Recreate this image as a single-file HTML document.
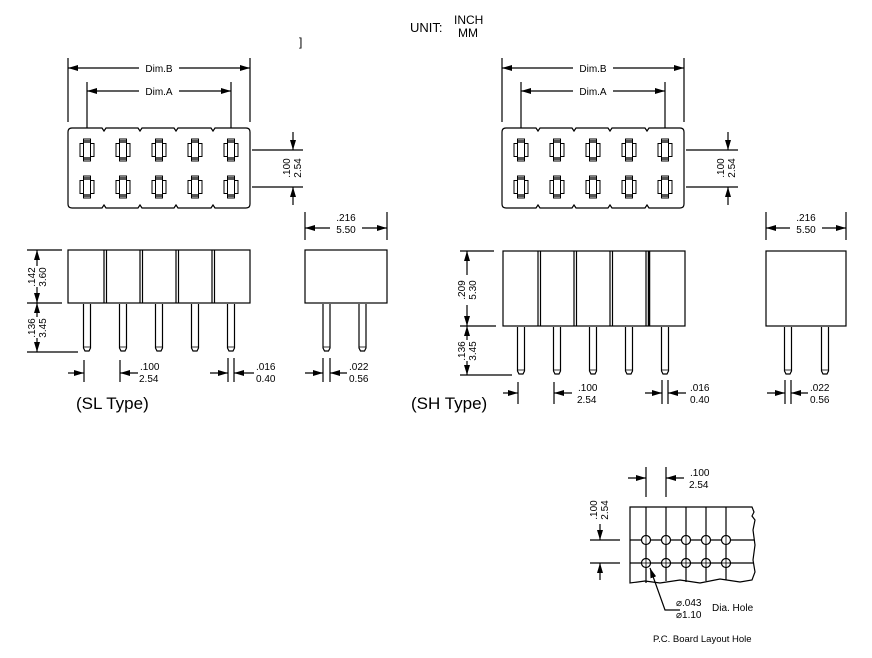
<!DOCTYPE html>
<html><head><meta charset="utf-8"><style>
html,body{margin:0;padding:0;background:#fff;width:872px;height:658px;overflow:hidden}
svg{display:block}
text{font-family:"Liberation Sans",Arial,sans-serif;fill:#000}
.t{font-size:10px}
</style></head><body>
<svg width="872" height="658" viewBox="0 0 872 658" xmlns="http://www.w3.org/2000/svg">
<defs>
<marker id="a" viewBox="0 0 10 6" refX="10" refY="3" markerWidth="10" markerHeight="6" markerUnits="userSpaceOnUse" orient="auto"><path d="M0,0L10,3L0,6z" fill="#000"/></marker>
<g id="c">
<rect x="-7" y="-6.5" width="14" height="13" fill="#fff" stroke="#000" stroke-width="1"/>
<rect x="-3.5" y="-11" width="7" height="22" fill="#fff" stroke="#000" stroke-width="1"/>
<rect x="-3" y="-10" width="6" height="3" fill="#555"/>
<rect x="-3" y="7" width="6" height="3" fill="#555"/>
</g>
<g id="p"><path d="M-3.5,0V44L-2,47H2L3.5,44V0" fill="#fff" stroke="#000" stroke-width="1.2"/><line x1="-3.5" y1="43" x2="3.5" y2="43" stroke="#000" stroke-width="0.8"/></g>
<g id="pl"><path d="M-3.5,0V44L-2,47H2L3.5,44V0" fill="#fff" stroke="#000" stroke-width="1.2"/><line x1="-3.5" y1="43" x2="3.5" y2="43" stroke="#000" stroke-width="0.8"/></g>
</defs>
<g stroke="#000" stroke-width="1.2" fill="none">

<!-- header -->
</g>
<text x="410" y="32" font-size="13">UNIT:</text>
<text x="454" y="24" font-size="12">INCH</text>
<text x="458" y="37" font-size="12">MM</text>
<text x="299" y="46" font-size="12">]</text>

<!-- ========== SL ========== -->
<g stroke="#000" stroke-width="1.2" fill="none">
<!-- Dim B/A -->
<line x1="68" y1="58" x2="68" y2="122"/><line x1="250" y1="58" x2="250" y2="122"/>
<line x1="87" y1="82" x2="87" y2="128"/><line x1="231" y1="82" x2="231" y2="128"/>
<line x1="140" y1="68" x2="68" y2="68" marker-end="url(#a)"/><line x1="178" y1="68" x2="250" y2="68" marker-end="url(#a)"/>
<line x1="140" y1="91" x2="87" y2="91" marker-end="url(#a)"/><line x1="178" y1="91" x2="231" y2="91" marker-end="url(#a)"/>
<!-- top box -->
<path d="M72,128H102L104,131L106,128H138L140,131L142,128H174L176,131L178,128H211L213,131L215,128H246Q250,128 250,132V204Q250,208 246,208H215L213,205L211,208H178L176,205L174,208H142L140,205L138,208H106L104,205L102,208H72Q68,208 68,204V132Q68,128 72,128Z"/>
<!-- .100 right -->
<line x1="252" y1="150" x2="303" y2="150"/><line x1="252" y1="187" x2="303" y2="187"/>
<line x1="293" y1="132" x2="293" y2="150" marker-end="url(#a)"/><line x1="293" y1="205" x2="293" y2="187" marker-end="url(#a)"/>
<!-- side view -->
<rect x="68" y="250" width="182" height="53"/>
<line x1="104" y1="250" x2="104" y2="303"/><line x1="106.5" y1="250" x2="106.5" y2="303"/>
<line x1="140" y1="250" x2="140" y2="303"/><line x1="142.5" y1="250" x2="142.5" y2="303"/>
<line x1="176" y1="250" x2="176" y2="303"/><line x1="178.5" y1="250" x2="178.5" y2="303"/>
<line x1="212" y1="250" x2="212" y2="303"/><line x1="214.5" y1="250" x2="214.5" y2="303"/>
<!-- left dims -->
<line x1="27" y1="250" x2="62" y2="250"/><line x1="27" y1="303" x2="62" y2="303"/><line x1="27" y1="352" x2="78" y2="352"/>
<line x1="37" y1="266" x2="37" y2="250" marker-end="url(#a)"/><line x1="37" y1="287" x2="37" y2="303" marker-end="url(#a)"/>
<line x1="37" y1="317" x2="37" y2="303" marker-end="url(#a)"/><line x1="37" y1="338" x2="37" y2="352" marker-end="url(#a)"/>
<!-- bottom dims -->
<line x1="84" y1="360" x2="84" y2="382"/><line x1="68" y1="373" x2="84" y2="373" marker-end="url(#a)"/>
<line x1="120" y1="360" x2="120" y2="382"/><line x1="138" y1="373" x2="120" y2="373" marker-end="url(#a)"/>
<line x1="228" y1="358" x2="228" y2="382"/><line x1="234" y1="358" x2="234" y2="382"/>
<line x1="210" y1="373" x2="228" y2="373" marker-end="url(#a)"/><line x1="254" y1="373" x2="234" y2="373" marker-end="url(#a)"/>
<!-- side right -->
<rect x="305" y="250" width="82" height="53"/>
<line x1="305" y1="212" x2="305" y2="240"/><line x1="387" y1="212" x2="387" y2="240"/>
<line x1="330" y1="228" x2="305" y2="228" marker-end="url(#a)"/><line x1="362" y1="228" x2="387" y2="228" marker-end="url(#a)"/>
<line x1="323" y1="358" x2="323" y2="382"/><line x1="330" y1="358" x2="330" y2="382"/>
<line x1="305" y1="373" x2="323" y2="373" marker-end="url(#a)"/><line x1="347" y1="373" x2="330" y2="373" marker-end="url(#a)"/>
</g>
<g>
<use href="#c" x="87" y="150"/><use href="#c" x="123" y="150"/><use href="#c" x="159" y="150"/><use href="#c" x="195" y="150"/><use href="#c" x="231" y="150"/>
<use href="#c" x="87" y="187"/><use href="#c" x="123" y="187"/><use href="#c" x="159" y="187"/><use href="#c" x="195" y="187"/><use href="#c" x="231" y="187"/>
<use href="#p" x="87" y="304"/><use href="#p" x="123" y="304"/><use href="#p" x="159" y="304"/><use href="#p" x="195" y="304"/><use href="#p" x="231" y="304"/>
<use href="#p" x="326.5" y="304"/><use href="#p" x="362.5" y="304"/>
</g>
<rect x="139" y="63" width="40" height="11" fill="#fff"/><text x="159" y="72" class="t" text-anchor="middle">Dim.B</text>
<rect x="139" y="86" width="40" height="11" fill="#fff"/><text x="159" y="95" class="t" text-anchor="middle">Dim.A</text>
<text class="t" text-anchor="middle" transform="translate(290,168) rotate(-90)">.100</text>
<text class="t" text-anchor="middle" transform="translate(301,168) rotate(-90)">2.54</text>
<text class="t" text-anchor="middle" transform="translate(35,277) rotate(-90)">.142</text>
<text class="t" text-anchor="middle" transform="translate(46,277) rotate(-90)">3.60</text>
<text class="t" text-anchor="middle" transform="translate(35,328) rotate(-90)">.136</text>
<text class="t" text-anchor="middle" transform="translate(46,328) rotate(-90)">3.45</text>
<text x="140" y="370" class="t">.100</text><text x="139" y="382" class="t">2.54</text>
<text x="256" y="370" class="t">.016</text><text x="256" y="382" class="t">0.40</text>
<text x="346" y="221" class="t" text-anchor="middle">.216</text><text x="346" y="233" class="t" text-anchor="middle">5.50</text>
<text x="349" y="370" class="t">.022</text><text x="349" y="382" class="t">0.56</text>
<text x="76" y="409" font-size="17">(SL Type)</text>

<!-- ========== SH ========== -->
<g stroke="#000" stroke-width="1.2" fill="none">
<line x1="502" y1="58" x2="502" y2="122"/><line x1="684" y1="58" x2="684" y2="122"/>
<line x1="521" y1="82" x2="521" y2="128"/><line x1="665" y1="82" x2="665" y2="128"/>
<line x1="574" y1="68" x2="502" y2="68" marker-end="url(#a)"/><line x1="612" y1="68" x2="684" y2="68" marker-end="url(#a)"/>
<line x1="574" y1="91" x2="521" y2="91" marker-end="url(#a)"/><line x1="612" y1="91" x2="665" y2="91" marker-end="url(#a)"/>
<path d="M506,128H536L538,131L540,128H572L574,131L576,128H608L610,131L612,128H645L647,131L649,128H680Q684,128 684,132V204Q684,208 680,208H649L647,205L645,208H612L610,205L608,208H576L574,205L572,208H540L538,205L536,208H506Q502,208 502,204V132Q502,128 506,128Z"/>
<line x1="686" y1="150" x2="738" y2="150"/><line x1="686" y1="187" x2="738" y2="187"/>
<line x1="728" y1="132" x2="728" y2="150" marker-end="url(#a)"/><line x1="728" y1="205" x2="728" y2="187" marker-end="url(#a)"/>
<rect x="503" y="251" width="182" height="75"/>
<line x1="538" y1="251" x2="538" y2="326"/><line x1="540.5" y1="251" x2="540.5" y2="326"/>
<line x1="574" y1="251" x2="574" y2="326"/><line x1="576.5" y1="251" x2="576.5" y2="326"/>
<line x1="610" y1="251" x2="610" y2="326"/><line x1="612.5" y1="251" x2="612.5" y2="326"/>
<line x1="646" y1="251" x2="646" y2="326"/><line x1="649" y1="251" x2="649" y2="326" stroke-width="2.5"/>
<line x1="460" y1="251" x2="494" y2="251"/><line x1="460" y1="326" x2="496" y2="326"/><line x1="460" y1="375" x2="512" y2="375"/>
<line x1="467" y1="275" x2="467" y2="251" marker-end="url(#a)"/><line x1="467" y1="305" x2="467" y2="326" marker-end="url(#a)"/>
<line x1="467" y1="340" x2="467" y2="326" marker-end="url(#a)"/><line x1="467" y1="361" x2="467" y2="375" marker-end="url(#a)"/>
<line x1="518" y1="382" x2="518" y2="404"/><line x1="503" y1="393" x2="518" y2="393" marker-end="url(#a)"/>
<line x1="554" y1="382" x2="554" y2="404"/><line x1="572" y1="393" x2="554" y2="393" marker-end="url(#a)"/>
<line x1="662" y1="380" x2="662" y2="404"/><line x1="668" y1="380" x2="668" y2="404"/>
<line x1="645" y1="393" x2="662" y2="393" marker-end="url(#a)"/><line x1="686" y1="393" x2="668" y2="393" marker-end="url(#a)"/>
<rect x="766" y="251" width="80" height="75"/>
<line x1="766" y1="212" x2="766" y2="240"/><line x1="846" y1="212" x2="846" y2="240"/>
<line x1="790" y1="228" x2="766" y2="228" marker-end="url(#a)"/><line x1="822" y1="228" x2="846" y2="228" marker-end="url(#a)"/>
<line x1="785" y1="380" x2="785" y2="404"/><line x1="791" y1="380" x2="791" y2="404"/>
<line x1="767" y1="393" x2="785" y2="393" marker-end="url(#a)"/><line x1="808" y1="393" x2="791" y2="393" marker-end="url(#a)"/>
</g>
<g>
<use href="#c" x="521" y="150"/><use href="#c" x="557" y="150"/><use href="#c" x="593" y="150"/><use href="#c" x="629" y="150"/><use href="#c" x="665" y="150"/>
<use href="#c" x="521" y="187"/><use href="#c" x="557" y="187"/><use href="#c" x="593" y="187"/><use href="#c" x="629" y="187"/><use href="#c" x="665" y="187"/>
<use href="#p" x="521" y="327"/><use href="#p" x="557" y="327"/><use href="#p" x="593" y="327"/><use href="#p" x="629" y="327"/><use href="#p" x="665" y="327"/>
<use href="#p" x="788" y="327"/><use href="#p" x="825" y="327"/>
</g>
<rect x="573" y="63" width="40" height="11" fill="#fff"/><text x="593" y="72" class="t" text-anchor="middle">Dim.B</text>
<rect x="573" y="86" width="40" height="11" fill="#fff"/><text x="593" y="95" class="t" text-anchor="middle">Dim.A</text>
<text class="t" text-anchor="middle" transform="translate(724,168) rotate(-90)">.100</text>
<text class="t" text-anchor="middle" transform="translate(735,168) rotate(-90)">2.54</text>
<text class="t" text-anchor="middle" transform="translate(465,290) rotate(-90)">.209</text>
<text class="t" text-anchor="middle" transform="translate(476,290) rotate(-90)">5.30</text>
<text class="t" text-anchor="middle" transform="translate(465,351) rotate(-90)">.136</text>
<text class="t" text-anchor="middle" transform="translate(476,351) rotate(-90)">3.45</text>
<text x="578" y="391" class="t">.100</text><text x="577" y="403" class="t">2.54</text>
<text x="690" y="391" class="t">.016</text><text x="690" y="403" class="t">0.40</text>
<text x="806" y="221" class="t" text-anchor="middle">.216</text><text x="806" y="233" class="t" text-anchor="middle">5.50</text>
<text x="810" y="391" class="t">.022</text><text x="810" y="403" class="t">0.56</text>
<text x="411" y="409" font-size="17">(SH Type)</text>

<!-- ========== PCB ========== -->
<g stroke="#000" stroke-width="1.2" fill="none">
<path d="M630,507H752L754,512L752,516L755,520L753,530L755,545L753,560L755,572L752,580L740,582L720,579L700,583L680,580L660,583L645,581L630,583Z"/>
<line x1="630" y1="540" x2="754" y2="540"/><line x1="630" y1="563" x2="754" y2="563"/>
<line x1="646" y1="507" x2="646" y2="583"/><line x1="666" y1="507" x2="666" y2="581"/><line x1="686" y1="507" x2="686" y2="582"/><line x1="706" y1="507" x2="706" y2="581"/><line x1="726" y1="507" x2="726" y2="580"/>
<line x1="646" y1="467" x2="646" y2="497"/><line x1="666" y1="467" x2="666" y2="497"/>
<line x1="628" y1="478" x2="646" y2="478" marker-end="url(#a)"/><line x1="684" y1="478" x2="666" y2="478" marker-end="url(#a)"/>
<line x1="590" y1="540" x2="620" y2="540"/><line x1="590" y1="563" x2="620" y2="563"/>
<line x1="600" y1="524" x2="600" y2="540" marker-end="url(#a)"/><line x1="600" y1="580" x2="600" y2="563" marker-end="url(#a)"/>
<path d="M680,610H665L650,568" marker-end="url(#a)"/>
</g>
<g fill="#fff" stroke="#000" stroke-width="1.2">
<circle cx="646" cy="540" r="4.5"/><circle cx="666" cy="540" r="4.5"/><circle cx="686" cy="540" r="4.5"/><circle cx="706" cy="540" r="4.5"/><circle cx="726" cy="540" r="4.5"/>
<circle cx="646" cy="563" r="4.5"/><circle cx="666" cy="563" r="4.5"/><circle cx="686" cy="563" r="4.5"/><circle cx="706" cy="563" r="4.5"/><circle cx="726" cy="563" r="4.5"/>
</g>
<g stroke="#000" stroke-width="0.8">
<line x1="646" y1="536" x2="646" y2="544"/><line x1="666" y1="536" x2="666" y2="544"/><line x1="686" y1="536" x2="686" y2="544"/><line x1="706" y1="536" x2="706" y2="544"/><line x1="726" y1="536" x2="726" y2="544"/>
<line x1="642" y1="563" x2="650" y2="563"/><line x1="646" y1="559" x2="646" y2="567"/><line x1="662" y1="563" x2="670" y2="563"/><line x1="666" y1="559" x2="666" y2="567"/><line x1="682" y1="563" x2="690" y2="563"/><line x1="686" y1="559" x2="686" y2="567"/><line x1="702" y1="563" x2="710" y2="563"/><line x1="706" y1="559" x2="706" y2="567"/><line x1="722" y1="563" x2="730" y2="563"/><line x1="726" y1="559" x2="726" y2="567"/>
</g>
<text x="690" y="476" class="t">.100</text><text x="689" y="488" class="t">2.54</text>
<text class="t" text-anchor="middle" transform="translate(597,510) rotate(-90)">.100</text>
<text class="t" text-anchor="middle" transform="translate(608,510) rotate(-90)">2.54</text>
<text x="676" y="606" class="t">⌀.043</text><text x="676" y="618" class="t">⌀1.10</text>
<text x="712" y="611" class="t">Dia. Hole</text>
<text x="653" y="642" font-size="9.5">P.C. Board Layout Hole</text>
</svg>
</body></html>
